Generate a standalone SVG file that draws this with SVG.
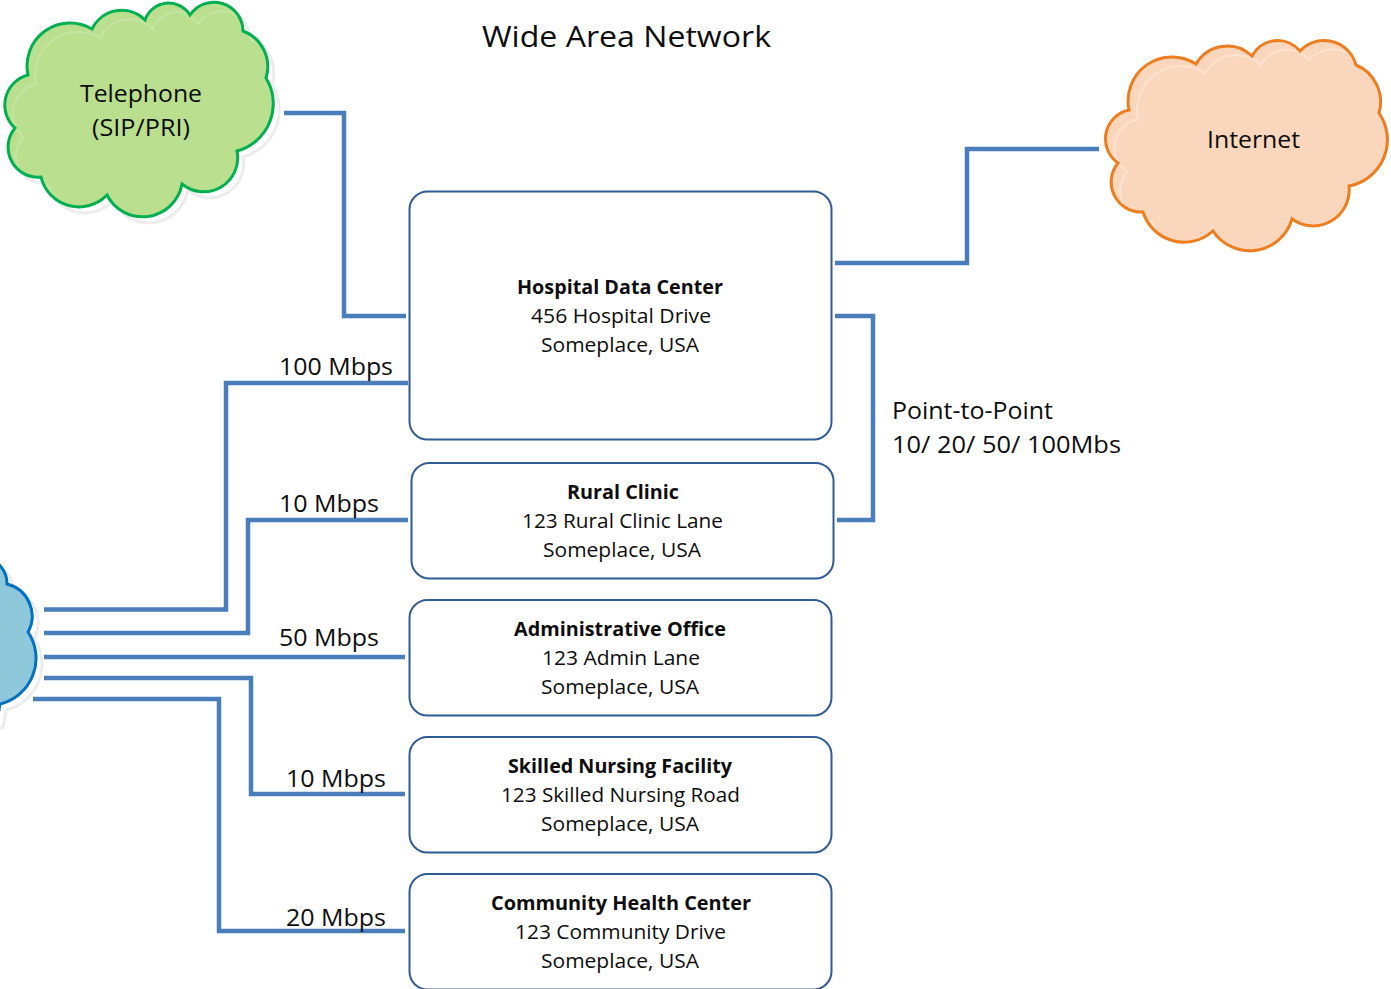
<svg xmlns="http://www.w3.org/2000/svg" width="1391" height="989" viewBox="0 0 1391 989">
<style>
text{font-family:"Open Sans","Noto Sans","Liberation Sans",sans-serif;fill:#0d0d0d}
.t{font-size:30px}.l{font-size:23px}.b{font-size:19.5px}.h{font-size:19.5px;font-weight:700}
.box{fill:#fff;stroke:#2f5c94;stroke-width:2}
.c{fill:none;stroke:#4a7ebb;stroke-width:4.500;stroke-linejoin:miter}
.halo{fill:#fff;stroke:#ececec;stroke-width:3}
</style>
<defs>
<path id="telc" d="M92,29A33,33 0 0 1 145,20A25,25 0 0 1 190,15A29,29 0 0 1 243,31A38,38 0 0 1 266,78A49,49 0 0 1 237,151A34,34 0 0 1 182,184A40,40 0 0 1 107,195A39,39 0 0 1 41,177A30,30 0 0 1 15,128A31,31 0 0 1 28,75A43,43 0 0 1 92,29Z"/>
<path id="intc" d="M1129,110A44,44 0 0 1 1196,64A36,36 0 0 1 1252,56A29,29 0 0 1 1300,51A33,33 0 0 1 1356,65A40,40 0 0 1 1379,113A47,47 0 0 1 1349,186A36,36 0 0 1 1292,219A44,44 0 0 1 1213,231A43,43 0 0 1 1143,212A30,30 0 0 1 1118,163A29.500,29.500 0 0 1 1129,110Z"/>
<path id="wanc" d="M-14,558A26,26 0 0 1 7,584A33,33 0 0 1 28,632A47,47 0 0 1 0,704L-3,722L-40,722L-40,558Z"/>
<clipPath id="telclip"><use href="#telc"/></clipPath>
<clipPath id="intclip"><use href="#intc"/></clipPath>
</defs>

<g id="connectors">
<path class="c" d="M284,113H344V316H406"/>
<path class="c" d="M835,263H967V149H1099"/>
<path class="c" d="M835,316H873V520H837"/>
<path class="c" d="M44,609.500H226V383H408"/>
<path class="c" d="M44,633H248V520H408"/>
<path class="c" d="M44,657H405"/>
<path class="c" d="M44,678H251V794H405"/>
<path class="c" d="M33,699H219V931H405"/>
</g>

<g id="title"><text class="t" x="482" y="46.500" textLength="289" lengthAdjust="spacingAndGlyphs">Wide Area Network</text></g>

<g id="telephone">
<use href="#telc" class="halo" transform="translate(6,6)"/>
<use href="#telc" fill="#b9df8f" stroke="none"/>
<g clip-path="url(#telclip)"><use href="#telc" fill="none" stroke="#c6e5a4" stroke-width="2" transform="translate(8,9)"/></g>
<use href="#telc" fill="none" stroke="#00b050" stroke-width="3"/>
<text class="l" x="80" y="102" textLength="122" lengthAdjust="spacingAndGlyphs">Telephone</text>
<text class="l" x="92" y="136" textLength="98" lengthAdjust="spacingAndGlyphs">(SIP/PRI)</text>
</g>

<g id="internet">
<use href="#intc" fill="#fad7bc" stroke="none"/>
<g clip-path="url(#intclip)"><use href="#intc" fill="none" stroke="#fce2cf" stroke-width="2" transform="translate(9,9)"/></g>
<use href="#intc" fill="none" stroke="#ed7d1f" stroke-width="3"/>
<text class="l" x="1207" y="148" textLength="93" lengthAdjust="spacingAndGlyphs">Internet</text>
</g>

<g id="wan">
<use href="#wanc" class="halo" transform="translate(6,6)"/>
<use href="#wanc" fill="#8ec8da" stroke="#0070c0" stroke-width="3"/>
</g>

<g id="hospital">
<rect class="box" x="409.500" y="191.500" width="422" height="248" rx="18"/>
<text class="h" x="517" y="294" textLength="206" lengthAdjust="spacingAndGlyphs">Hospital Data Center</text>
<text class="b" x="531" y="323" textLength="180" lengthAdjust="spacingAndGlyphs">456 Hospital Drive</text>
<text class="b" x="541" y="352" textLength="158" lengthAdjust="spacingAndGlyphs">Someplace, USA</text>
</g>
<g id="rural">
<rect class="box" x="411.500" y="463" width="422" height="115.500" rx="18"/>
<text class="h" x="567" y="499" textLength="112" lengthAdjust="spacingAndGlyphs">Rural Clinic</text>
<text class="b" x="522" y="528" textLength="201" lengthAdjust="spacingAndGlyphs">123 Rural Clinic Lane</text>
<text class="b" x="543" y="557" textLength="158" lengthAdjust="spacingAndGlyphs">Someplace, USA</text>
</g>
<g id="admin">
<rect class="box" x="409.500" y="600" width="422" height="115.500" rx="18"/>
<text class="h" x="514" y="636" textLength="212" lengthAdjust="spacingAndGlyphs">Administrative Office</text>
<text class="b" x="542" y="665" textLength="158" lengthAdjust="spacingAndGlyphs">123 Admin Lane</text>
<text class="b" x="541" y="694" textLength="158" lengthAdjust="spacingAndGlyphs">Someplace, USA</text>
</g>
<g id="skilled">
<rect class="box" x="409.500" y="737" width="422" height="115.500" rx="18"/>
<text class="h" x="508" y="773" textLength="224" lengthAdjust="spacingAndGlyphs">Skilled Nursing Facility</text>
<text class="b" x="501" y="802" textLength="239" lengthAdjust="spacingAndGlyphs">123 Skilled Nursing Road</text>
<text class="b" x="541" y="831" textLength="158" lengthAdjust="spacingAndGlyphs">Someplace, USA</text>
</g>
<g id="community">
<rect class="box" x="409.500" y="874" width="422" height="115.500" rx="18"/>
<text class="h" x="491" y="910" textLength="260" lengthAdjust="spacingAndGlyphs">Community Health Center</text>
<text class="b" x="515" y="939" textLength="211" lengthAdjust="spacingAndGlyphs">123 Community Drive</text>
<text class="b" x="541" y="968" textLength="158" lengthAdjust="spacingAndGlyphs">Someplace, USA</text>
</g>

<g id="labels">
<text class="l" x="279" y="375" textLength="114" lengthAdjust="spacingAndGlyphs">100 Mbps</text>
<text class="l" x="279" y="512" textLength="100" lengthAdjust="spacingAndGlyphs">10 Mbps</text>
<text class="l" x="279" y="646" textLength="100" lengthAdjust="spacingAndGlyphs">50 Mbps</text>
<text class="l" x="286" y="787" textLength="100" lengthAdjust="spacingAndGlyphs">10 Mbps</text>
<text class="l" x="286" y="926" textLength="100" lengthAdjust="spacingAndGlyphs">20 Mbps</text>
<text class="l" x="892" y="419" textLength="161" lengthAdjust="spacingAndGlyphs">Point-to-Point</text>
<text class="l" x="892" y="453" textLength="229" lengthAdjust="spacingAndGlyphs">10/ 20/ 50/ 100Mbs</text>
</g>
</svg>
